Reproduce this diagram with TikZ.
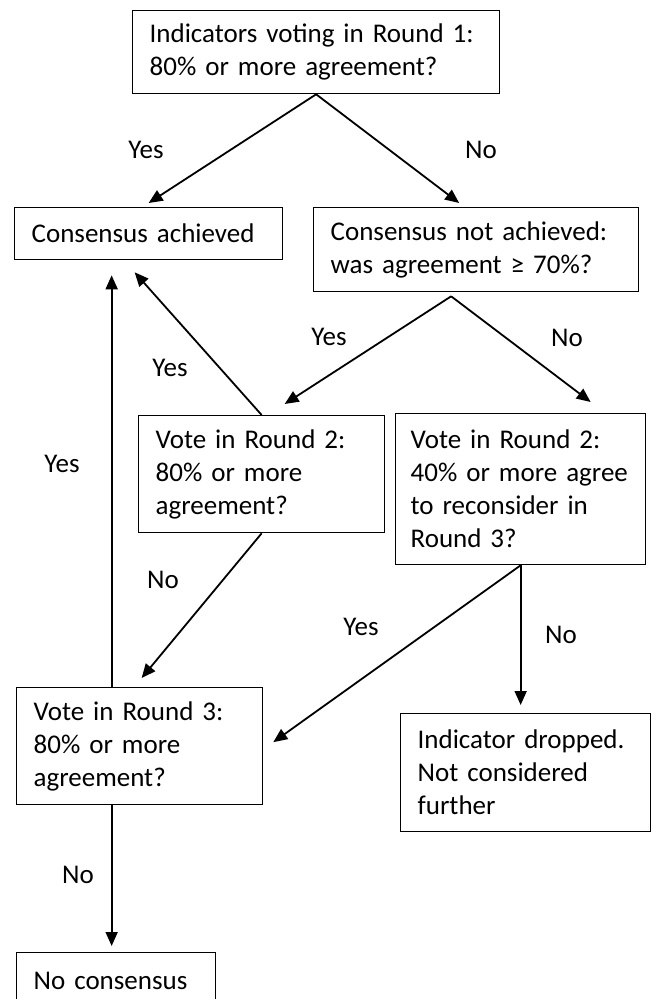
\documentclass[tikz,border=0pt]{standalone}
\usepackage{fontspec}
\setmainfont{Carlito}
\usepackage{tikz}
\usetikzlibrary{arrows.meta,positioning,calc}

\begin{document}
\begin{tikzpicture}[x=1pt, y=-1pt,
    every node/.style={font=\fontsize{27}{33}\selectfont},
    box/.style={draw, line width=1.3pt, anchor=north west, align=left, inner xsep=17pt},
    arr/.style={line width=1.8pt, -{Triangle[length=14pt,width=12pt]}}]
    \clip (0,0) rectangle (651,999);

    % boxes
    \node[box, text width=333pt, minimum height=83pt] (b1) at (132,10) {Indicators voting in Round 1:\\80\% or more agreement?};
    \node[box, text width=234pt, minimum height=52pt] (b2) at (14,207) {Consensus achieved};
    \node[box, text width=291pt, minimum height=84pt] (b3) at (313,207) {Consensus not achieved:\\was agreement ≥ 70\%?};
    \node[box, text width=212pt, minimum height=117pt] (b4) at (138,415) {Vote in Round 2:\\80\% or more\\agreement?};
    \node[box, text width=220pt, inner xsep=15pt, minimum height=151pt] (b5) at (395,413) {Vote in Round 2:\\40\% or more agree\\to reconsider in\\Round 3?};
    \node[box, text width=212pt, minimum height=117pt] (b6) at (16,687) {Vote in Round 3:\\80\% or more\\agreement?};
    \node[box, text width=216pt, minimum height=118pt] (b7) at (400,713) {Indicator dropped.\\Not considered\\further};
    \node[box, text width=165pt, minimum height=56pt] (b8) at (16,952) {No consensus};

    % connectors
    \draw[arr] (b1.south) -- ([yshift=4pt]b2.north);
    \draw[arr] (b1.south) -- ([xshift=-17pt,yshift=4pt]b3.north);

    \coordinate (s3) at ([xshift=-25pt,yshift=-4pt]b3.south);
    \draw[arr] (s3) -- ([xshift=23pt,yshift=11pt]b4.north);
    \draw[arr] (s3) -- ([xshift=70pt,yshift=11pt]b5.north);

    \draw[arr] (b4.north) -- ([xshift=-14pt,yshift=-12pt]b2.south);
    \coordinate (v6) at ([xshift=-28pt]b6.north);
    \draw[arr] (v6) -- ($(v6 |- b2.south)+(0,-15pt)$);

    \draw[arr] (b4.south) -- ([xshift=2pt,yshift=9pt]b6.north);
    \draw[arr] (b5.south) -- ([xshift=10pt,yshift=4pt]b6.east);
    \draw[arr] (b5.south) -- ($(b5.south |- b7.north)+(0,8pt)$);

    \coordinate (w6) at ([xshift=-28pt]b6.south);
    \draw[arr] (w6) -- ($(w6 |- b8.north)+(0,6pt)$);

    % labels
    \node (yes1) at (146,150) {Yes};
    \node (no1) at (481,150) {No};
    \node (yes2) at (329,337) {Yes};
    \node (no2) at (567,338) {No};
    \node (yes3) at (170,368) {Yes};
    \node (yes4) at (62,464) {Yes};
    \node (no3) at (163,580) {No};
    \node (yes5) at (361,627) {Yes};
    \node (no4) at (561,635) {No};
    \node (no5) at (78,875) {No};
\end{tikzpicture}
\end{document}
